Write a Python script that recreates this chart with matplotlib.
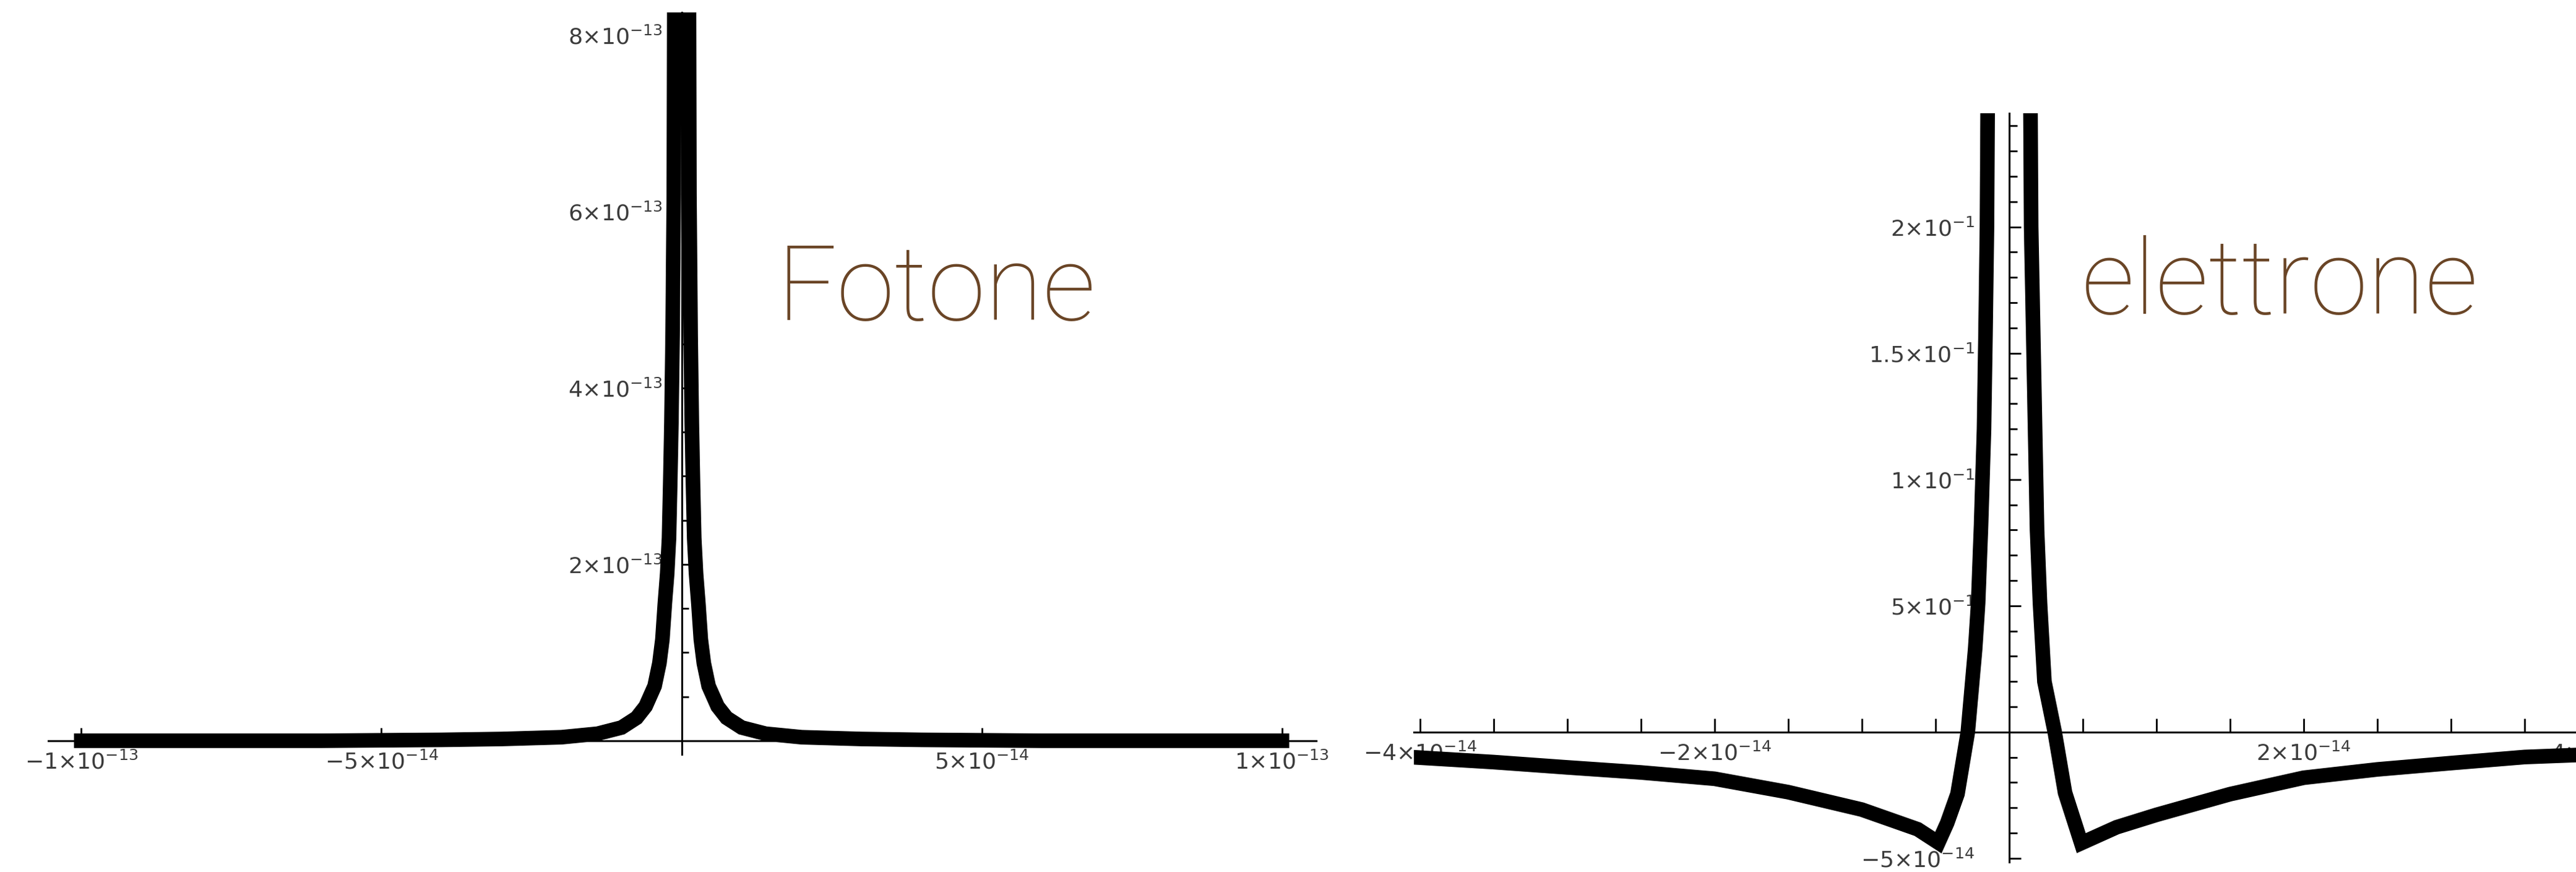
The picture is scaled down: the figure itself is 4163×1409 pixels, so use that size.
import matplotlib
matplotlib.use("Agg")
import numpy as np
import matplotlib.pyplot as plt
from matplotlib.ticker import FixedLocator, FixedFormatter, MultipleLocator

# ---------------- data ----------------
# photon panel: x in units of 1e-14, y in units of 1e-13
photon_x = [-10.0, -6.0, -4.0, -3.0, -2.0, -1.4, -1.0, -0.75, -0.6, -0.45, -0.37, -0.32,
            -0.28, -0.24, -0.21, -0.19, -0.17, -0.15, -0.13, -0.12,
            0.12, 0.13, 0.15, 0.17, 0.19, 0.21, 0.24, 0.28, 0.32, 0.37, 0.45, 0.6,
            0.75, 1.0, 1.4, 2.0, 3.0, 4.0, 6.0, 10.0]
photon_y = [0.0, 0.0, 0.01, 0.02, 0.04, 0.08, 0.15, 0.26, 0.39, 0.62, 0.88, 1.15,
            1.55, 1.9, 2.3, 2.9, 3.6, 4.6, 6.2, 9.0,
            9.0, 6.2, 4.6, 3.6, 2.9, 2.3, 1.9, 1.55, 1.15, 0.88, 0.62, 0.39,
            0.26, 0.15, 0.08, 0.04, 0.02, 0.01, 0.0, 0.0]

# electron panel: x in units of 1e-14
elec_x = [-4.04, -3.5, -3.0, -2.5, -2.0, -1.5, -1.0, -0.62, -0.48, -0.42, -0.35, -0.28,
          -0.23, -0.21, -0.19, -0.17, -0.16, -0.15, -0.14,
          0.14, 0.15, 0.17, 0.19, 0.21, 0.24, 0.31, 0.38, 0.49, 0.73, 1.0, 1.5,
          2.0, 2.5, 3.0, 3.5, 3.9]
elec_y = [-0.0100, -0.0119, -0.0140, -0.0160, -0.0185, -0.0238, -0.0307, -0.0385, -0.0438,
          -0.036, -0.0245, 0.0, 0.033, 0.051, 0.082, 0.12, 0.157, 0.20, 0.30,
          0.30, 0.20, 0.14, 0.08, 0.051, 0.02, 0.0, -0.024, -0.044, -0.0377, -0.0328,
          -0.0246, -0.0181, -0.0148, -0.0123, -0.0099, -0.0090]

# ticks and labels
photon_xticks = [-1e-13, -5e-14, 5e-14, 1e-13]
photon_xlabels = ["-1×10^{-13}", "-5×10^{-14}", "5×10^{-14}", "1×10^{-13}"]
photon_yticks = [2e-13, 4e-13, 6e-13, 8e-13]
photon_ylabels = ["2×10^{-13}", "4×10^{-13}", "6×10^{-13}", "8×10^{-13}"]

elec_xticks = [-4e-14, -2e-14, 2e-14, 4e-14]
elec_xlabels = ["-4×10^{-14}", "-2×10^{-14}", "2×10^{-14}", "4×10^{-14}"]
elec_yticks = [-0.05, 0.05, 0.10, 0.15, 0.20]
elec_ylabels = ["-5×10^{-14}", "5×10^{-1}", "1×10^{-1}", "1.5×10^{-1}", "2×10^{-1}"]

titles = ["Fotone", "elettrone"]

# ---------------- style ----------------
plt.rcParams['mathtext.fontset'] = 'custom'
plt.rcParams['mathtext.rm'] = 'Liberation Mono:bold'
plt.rcParams['mathtext.it'] = 'Liberation Mono:bold'
plt.rcParams['mathtext.bf'] = 'Liberation Mono:bold'
plt.rcParams['mathtext.default'] = 'regular'

W, H = 4163, 1409
fig = plt.figure(figsize=(W / 100, H / 100), dpi=100)
fig.patch.set_facecolor('white')


def axpos(l, t, r, b):
    return [l / W, 1 - b / H, (r - l) / W, (b - t) / H]


def fmt(labels):
    return ["$" + s + "$" for s in labels]


LBL_COLOR = '#3c3c3c'
LW = 17


def style(ax):
    for s in ['top', 'right']:
        ax.spines[s].set_visible(False)
    ax.spines['left'].set_position(('data', 0))
    ax.spines['bottom'].set_position(('data', 0))
    for s in ['left', 'bottom']:
        ax.spines[s].set_linewidth(2.2)
        ax.spines[s].set_color('black')
    ax.patch.set_alpha(0)


# ---------------- photon ----------------
ax1 = fig.add_axes(axpos(78, 20, 2127, 1219))
style(ax1)
ax1.plot(np.array(photon_x) * 1e-14, np.array(photon_y) * 1e-13, color='black',
         lw=LW, solid_joinstyle='miter', zorder=3)
ax1.set_xlim(-1.055e-13, 1.057e-13)
ax1.set_ylim(-0.155e-13, 8.26e-13)
ax1.xaxis.set_major_locator(FixedLocator(photon_xticks))
ax1.xaxis.set_major_formatter(FixedFormatter(fmt(photon_xlabels)))
ax1.yaxis.set_major_locator(FixedLocator(photon_yticks))
ax1.yaxis.set_major_formatter(FixedFormatter(fmt(photon_ylabels)))
ax1.yaxis.set_minor_locator(MultipleLocator(0.5e-13))
ax1.tick_params(axis='x', which='major', direction='in', length=15, width=2, pad=12,
                labelsize=26, labelcolor=LBL_COLOR)
ax1.tick_params(axis='y', which='major', direction='in', length=13, width=2, pad=22,
                labelsize=26, labelcolor=LBL_COLOR)
ax1.tick_params(axis='y', which='minor', direction='in', length=8, width=2)

# ---------------- electron ----------------
ax2 = fig.add_axes(axpos(2285, 183, 4230, 1393))
style(ax2)
ax2.plot(np.array(elec_x) * 1e-14, elec_y, color='black', lw=LW,
         solid_joinstyle='miter', zorder=3)
ax2.set_xlim(-4.04e-14, 4.13e-14)
ax2.set_ylim(-0.0515, 0.245)
ax2.xaxis.set_major_locator(FixedLocator(elec_xticks))
ax2.xaxis.set_major_formatter(FixedFormatter(fmt(elec_xlabels)))
ax2.xaxis.set_minor_locator(MultipleLocator(0.5e-14))
ax2.yaxis.set_major_locator(FixedLocator(elec_yticks))
ax2.yaxis.set_major_formatter(FixedFormatter(fmt(elec_ylabels)))
ax2.yaxis.set_minor_locator(MultipleLocator(0.01))
ax2.tick_params(axis='x', which='both', direction='in', length=16, width=2, pad=12,
                labelsize=26, labelcolor=LBL_COLOR)
ax2.tick_params(axis='y', which='major', direction='in', length=14, width=2, pad=40,
                labelsize=26, labelcolor=LBL_COLOR)
ax2.tick_params(axis='y', which='minor', direction='in', length=9, width=2)

# ---------------- handwritten-style titles ----------------
HAND = '#6a4526'
fig.text(1256 / W, 1 - 517 / H, titles[0], fontsize=122, color=HAND,
         family=['Roboto', 'DejaVu Sans'], fontweight='light', ha='left', va='baseline')
fig.text(3364 / W, 1 - 507 / H, titles[1], fontsize=122, color=HAND,
         family=['Roboto', 'DejaVu Sans'], fontweight='light', ha='left', va='baseline')

fig.savefig("out.png", dpi=100, facecolor='white')
